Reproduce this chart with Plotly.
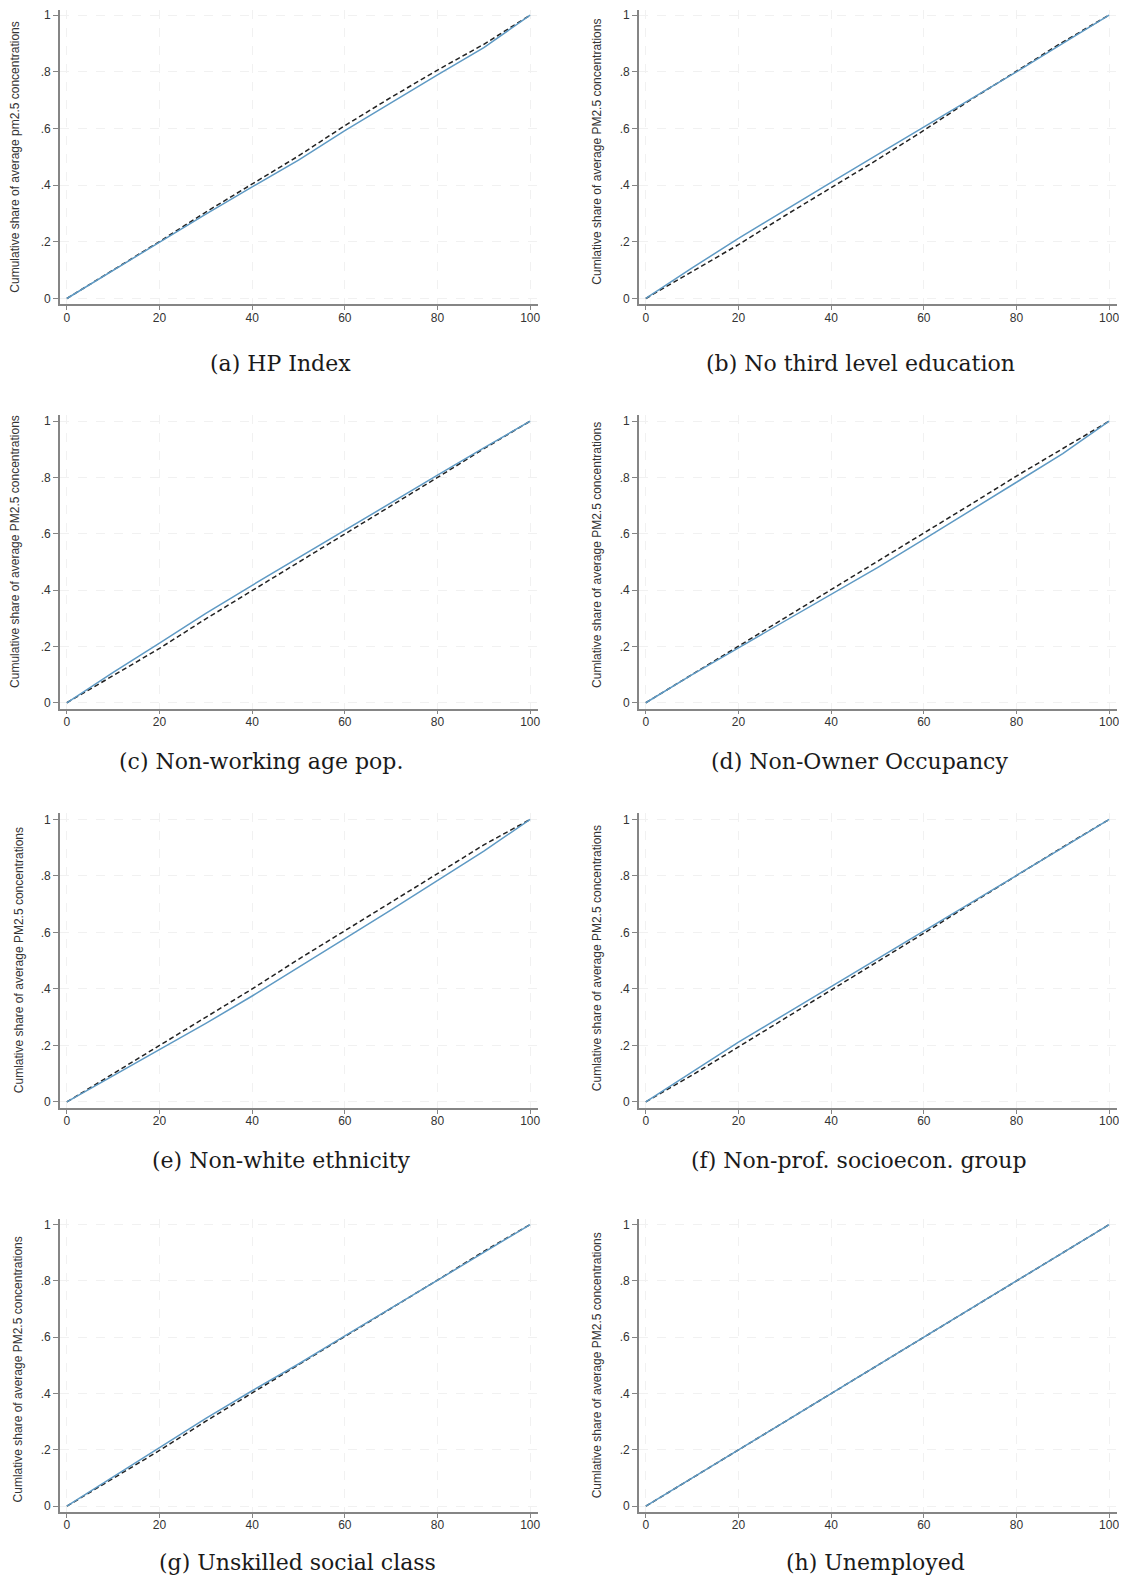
import plotly.graph_objects as go

# The page body has an 8px default margin, so figure coordinates are page coordinates minus 8.
OFF = 8
W, H = 1111, 1574

# Cumulative share of population (x, percent)
pop_share = [0, 10, 20, 30, 40, 50, 60, 70, 80, 90, 100]

# Concentration curves (solid blue) and reference curves (dashed black)
a_blue = [0, .100, .200, .298, .394, .488, .592, .692, .789, .885, 1]
a_dash = [0, .100, .201, .305, .405, .503, .610, .710, .806, .897, 1]
b_blue = [0, .108, .212, .312, .410, .508, .605, .705, .800, .900, 1]
b_dash = [0, .094, .190, .292, .390, .490, .593, .700, .802, .905, 1]
c_blue = [0, .108, .212, .317, .417, .515, .615, .712, .808, .905, 1]
c_dash = [0, .096, .193, .298, .398, .497, .598, .700, .800, .902, 1]
d_blue = [0, .100, .195, .290, .383, .480, .580, .683, .783, .885, 1]
d_dash = [0, .100, .200, .300, .400, .500, .600, .703, .805, .903, 1]
e_blue = [0, .093, .185, .278, .375, .475, .578, .680, .785, .888, 1]
e_dash = [0, .100, .200, .300, .400, .505, .605, .705, .808, .910, 1]
f_blue = [0, .105, .212, .310, .408, .505, .603, .702, .802, .900, 1]
f_dash = [0, .095, .195, .295, .395, .495, .597, .700, .802, .902, 1]
g_blue = [0, .105, .210, .312, .410, .505, .605, .703, .802, .900, 1]
g_dash = [0, .098, .198, .302, .402, .500, .602, .702, .803, .905, 1]
h_blue = [0, .100, .200, .300, .400, .500, .600, .700, .800, .900, 1]
h_dash = [0, .100, .201, .301, .401, .501, .601, .701, .801, .902, 1]

captions = ["(a) HP Index", "(b) No third level education", "(c) Non-working age pop.",
            "(d) Non-Owner Occupancy", "(e) Non-white ethnicity", "(f) Non-prof. socioecon. group",
            "(g) Unskilled social class", "(h) Unemployed"]
ytitles = ["Cumulative share of average pm2.5 concentrations",
           "Cumlative share of average PM2.5 concentrations",
           "Cumulative share of average PM2.5 concentrations",
           "Cumlative share of average PM2.5 concentrations",
           "Cumlative share of average PM2.5 concentrations",
           "Cumlative share of average PM2.5 concentrations",
           "Cumlative share of average PM2.5 concentrations",
           "Cumlative share of average PM2.5 concentrations"]
x_ticks = [0, 20, 40, 60, 80, 100]
y_ticks = [0, 0.2, 0.4, 0.6, 0.8, 1]
y_ticktext = ["0", ".2", ".4", ".6", ".8", "1"]

blues = [a_blue, b_blue, c_blue, d_blue, e_blue, f_blue, g_blue, h_blue]
dashes = [a_dash, b_dash, c_dash, d_dash, e_dash, f_dash, g_dash, h_dash]

# layout in page pixels
col_px = [(60, 539), (640, 1119)]
row_px = [(8, 303), (414, 708), (813, 1108), (1219, 1513)]
y_ranges = [(-0.021, 1.018), (-0.021, 1.021), (-0.021, 1.021), (-0.021, 1.021)]
title_x = [15, 598, 15, 598, 19, 598, 18, 598]
title_y = [155, 150, 550, 554, 960, 958, 1370, 1366]
cap_x = [281, 862, 261, 861, 282, 861, 298, 877]
cap_y = [362, 362, 761, 761, 1161, 1161, 1563, 1563]


def px(xp):
    return min(1.0, max(0.0, (xp - OFF) / W))


def py(yp):
    return min(1.0, max(0.0, 1 - (yp - OFF) / H))


fig = go.Figure()
layout = dict(width=W, height=H, margin=dict(l=0, r=0, t=0, b=0),
              paper_bgcolor="white", plot_bgcolor="white", showlegend=False,
              annotations=[])
axis_color = "#858585"
grid_color = "#f1f1f1"
tickfont = dict(family="Liberation Sans, Arial", size=12, color="#333333")

for i in range(8):
    r, c = divmod(i, 2)
    k = "" if i == 0 else str(i + 1)
    x0, x1 = col_px[c]
    y0, y1 = row_px[r]
    layout["xaxis" + k] = dict(domain=[px(x0), px(x1)], range=[-1.5, 101.7],
                               anchor="y" + k, tickvals=x_ticks, ticks="outside",
                               ticklen=4, tickcolor=axis_color, tickwidth=1.3,
                               showline=True, linecolor=axis_color, linewidth=1.6,
                               showgrid=True, gridcolor=grid_color, griddash="dash",
                               gridwidth=1, zeroline=False, tickfont=tickfont,
                               ticklabeloverflow="allow", ticklabelstandoff=-3)
    layout["yaxis" + k] = dict(domain=[py(y1), py(y0)], range=list(y_ranges[r]),
                               anchor="x" + k, tickvals=y_ticks, ticktext=y_ticktext,
                               ticks="outside", ticklen=5, tickcolor=axis_color, tickwidth=1.3,
                               showline=True, linecolor=axis_color, linewidth=1.6,
                               showgrid=True, gridcolor=grid_color, griddash="dash",
                               gridwidth=1, zeroline=False, tickfont=tickfont,
                               ticklabeloverflow="allow")
    fig.add_trace(go.Scatter(x=pop_share, y=dashes[i], mode="lines",
                             line=dict(color="#222222", width=1.5, dash="5px,3px"),
                             xaxis="x" + k, yaxis="y" + k))
    fig.add_trace(go.Scatter(x=pop_share, y=blues[i], mode="lines",
                             line=dict(color="#5f9ac4", width=1.5),
                             xaxis="x" + k, yaxis="y" + k))
    layout["annotations"].append(dict(
        text=ytitles[i], textangle=-90, xref="paper", yref="paper",
        x=px(title_x[i]), y=py(title_y[i]), xanchor="center", yanchor="middle",
        showarrow=False, font=dict(family="Liberation Sans, Arial", size=12, color="#333333")))
    layout["annotations"].append(dict(
        text=captions[i], xref="paper", yref="paper",
        x=px(cap_x[i]), y=py(cap_y[i]), xanchor="center", yanchor="middle",
        showarrow=False, font=dict(family="DejaVu Serif", size=22, color="#1a1a1a")))

fig.update_layout(**layout)
fig.write_html("out.html")
